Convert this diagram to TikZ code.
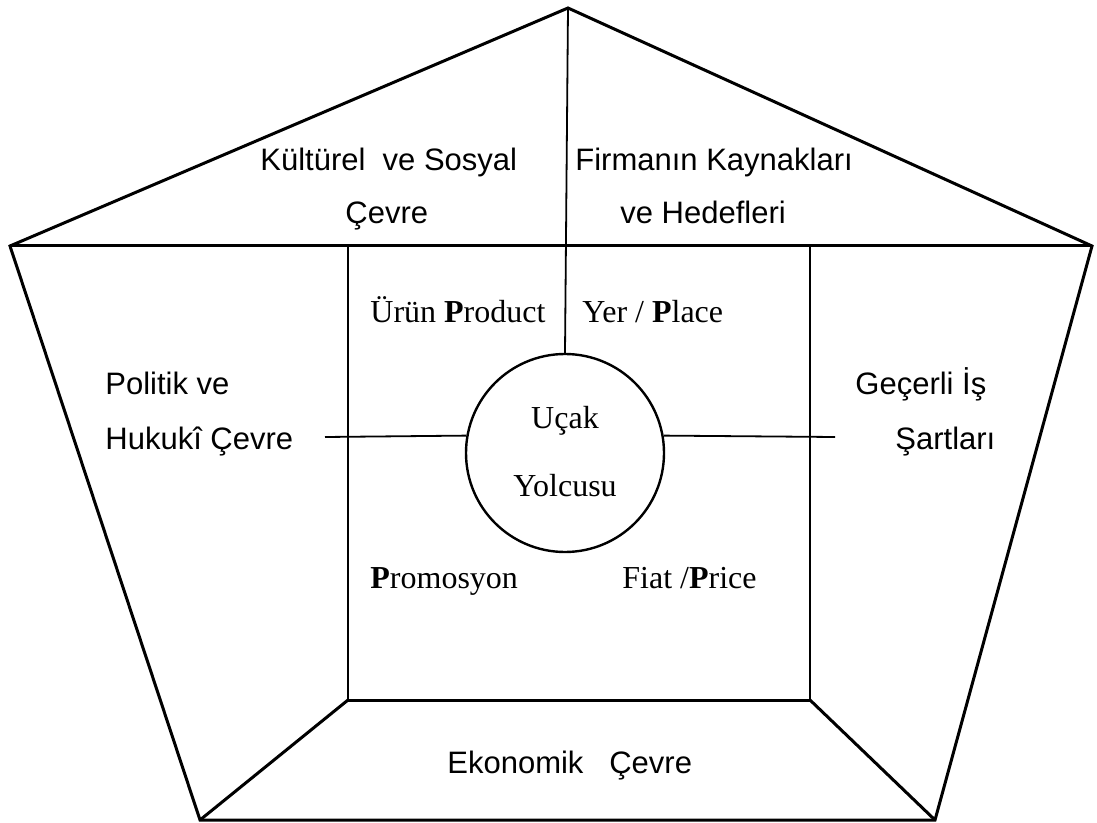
\documentclass[tikz,border=0pt]{standalone}
\usepackage{fontspec}
\setmainfont{Liberation Serif}
\setsansfont{Liberation Sans}

\begin{document}
\begin{tikzpicture}[
        x=0.5pt, y=-0.5pt,
        heavy/.style={line width=1.5pt, line join=miter},
        light/.style={line width=0.9pt},
        envtext/.style={font=\sffamily\fontsize{15.5}{18}\selectfont, inner sep=0pt, anchor=base west},
        mixtext/.style={font=\fontsize{16}{19}\selectfont, inner sep=0pt, anchor=base west}
    ]
        \useasboundingbox (0,0) rectangle (1097,823);
        % corners of the pentagon and the inner box
        \coordinate (apex) at (568,8);
        \coordinate (topleft) at (10,246);
        \coordinate (topright) at (1092,246);
        \coordinate (botleft) at (200,820);
        \coordinate (botright) at (935,820);
        \coordinate (boxtl) at (348,246);
        \coordinate (boxtr) at (810,246);
        \coordinate (boxbl) at (348,700);
        \coordinate (boxbr) at (810,700);
        \coordinate (leftend) at (325,437);
        \coordinate (rightend) at (835,437);

        \draw[heavy] (topleft) -- (apex) -- (topright) -- (botright) -- (botleft) -- cycle;
        \draw[heavy] (topleft) -- (topright);
        \draw[light] (boxtl) -- (boxbl);
        \draw[light] (boxtr) -- (boxbr);
        \draw[heavy] (boxbl) -- (boxbr);
        \draw[heavy] (boxbl) -- (botleft);
        \draw[heavy] (boxbr) -- (botright);

        \node[circle, draw, line width=1.2pt, minimum size=99pt, inner sep=0pt] (yolcu) at (565,453) {};
        \draw[light] (apex) -- (yolcu.north);
        \draw[light] (leftend) -- (yolcu.170);
        \draw[light] (yolcu.10) -- (rightend);

        % environment labels
        \node[envtext] (kultur1) at (260,171) {Kültürel\ \ ve Sosyal};
        \node[envtext] (kultur2) at (345,224) {Çevre};
        \node[envtext] (firma1) at (575,171) {Firmanın Kaynakları};
        \node[envtext] (firma2) at (620,224) {ve Hedefleri};
        \node[envtext] (politik1) at (105,394) {Politik ve};
        \node[envtext] (politik2) at (105,449) {Hukukî Çevre};
        \node[envtext] (is1) at (855,394) {Geçerli İş};
        \node[envtext] (is2) at (895,449) {Şartları};
        \node[envtext] (ekonomi) at (447,773) {Ekonomik\ \ \ Çevre};

        % marketing mix labels
        \node[mixtext] (urun) at (370,323) {Ürün \textbf{P}roduct};
        \node[mixtext] (yer) at (582,323) {Yer / \textbf{P}lace};
        \node[mixtext] (promo) at (370,588) {\textbf{P}romosyon};
        \node[mixtext] (fiat) at (622,588) {Fiat /\textbf{P}rice};
        \node[mixtext, anchor=base] (ucak) at (565,429) {Uçak};
        \node[mixtext, anchor=base] (yolcusu) at (565,496) {Yolcusu};
    \end{tikzpicture}
\end{document}
